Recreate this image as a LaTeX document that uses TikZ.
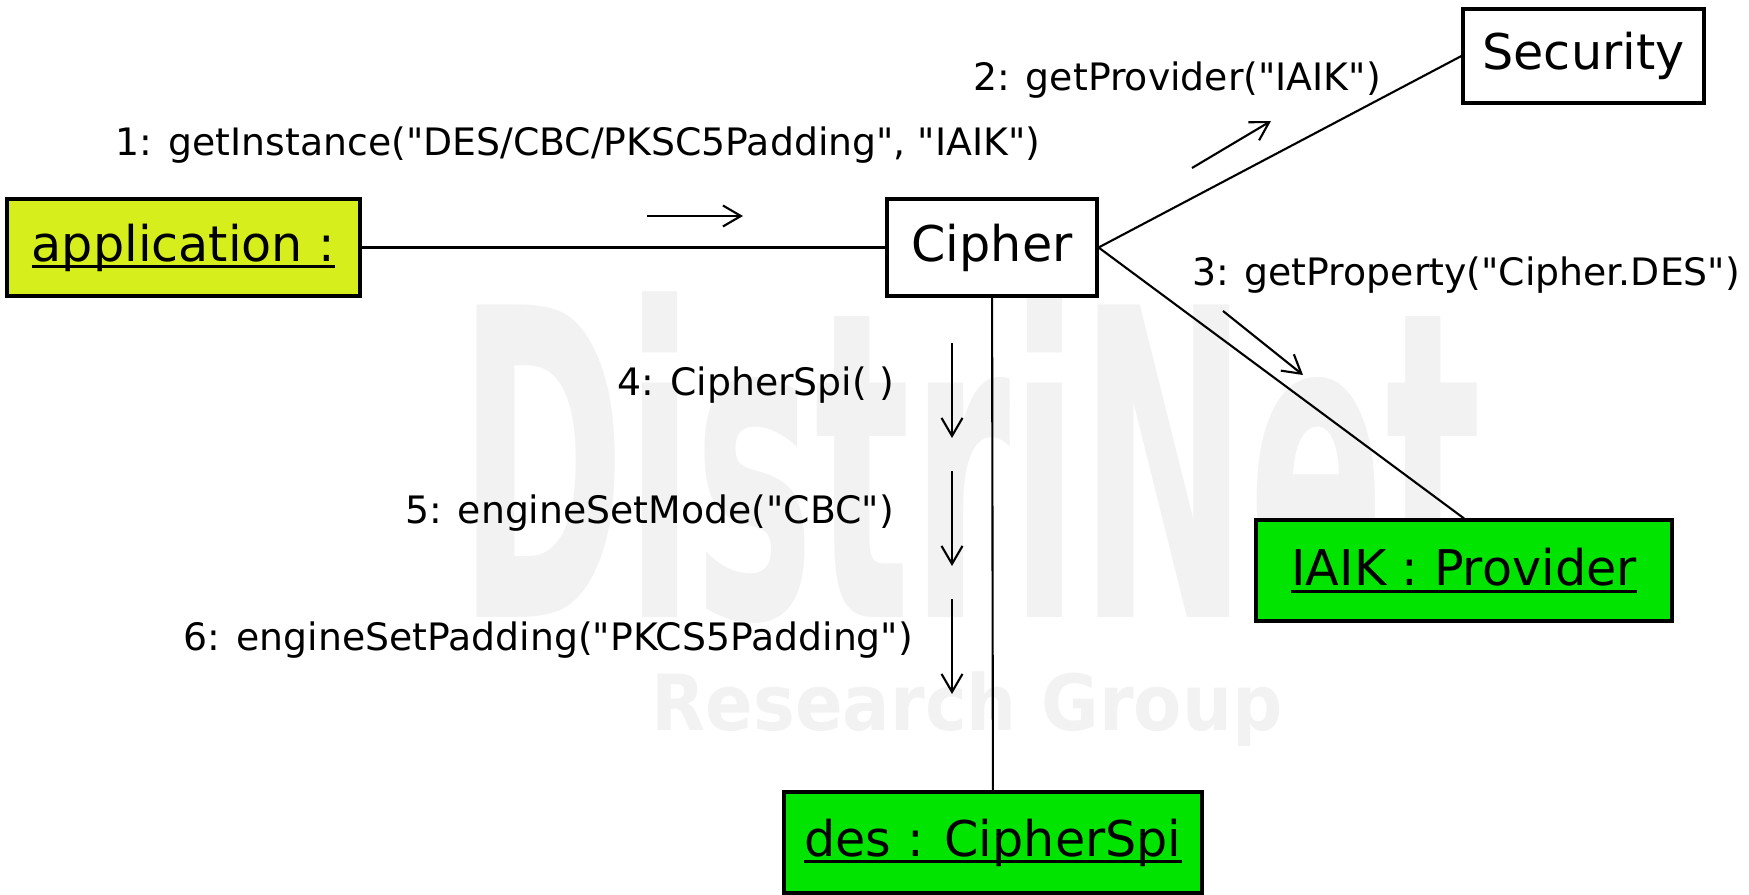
\documentclass[tikz,border=0pt]{standalone}
\usepackage{fontspec}
\usepackage{graphicx}
\setmainfont{DejaVu Sans}
\newfontfamily\umlfont{DejaVu Sans}
\usetikzlibrary{arrows.meta,positioning}
\definecolor{appyellow}{RGB}{214,238,28}
\definecolor{objgreen}{RGB}{0,228,0}
\newcommand{\objname}[1]{\setbox0\hbox{#1}\rlap{\rule[-0.145em]{\wd0}{0.065em}}\box0}

\begin{document}
\begin{tikzpicture}[>={Straight Barb[length=1.8mm,width=2.1mm]}, line width=0.6pt]
    \tikzstyle{object}=[draw,line width=0.9pt,inner sep=0pt,font=\umlfont\fontsize{14}{16}\selectfont]
    \tikzstyle{msg}=[font=\umlfont\fontsize{10.75}{12}\selectfont,inner sep=0pt]
    \tikzstyle{watermark}=[text=black!5,inner sep=0pt,anchor=base]
    \useasboundingbox (0,0) rectangle (17.49,-8.95);

    % Background logo
    \node[watermark,font=\fontsize{122}{122}\selectfont\bfseries] (logo) at (9.70,-6.17) {\scalebox{0.47}[1]{DistriNet}};
    \node[watermark,font=\fontsize{22}{24}\selectfont\bfseries] (group) at (9.67,-7.30) {\scalebox{0.91}[1]{Research Group}};

    % Objects
    \node[object,fill=appyellow,minimum width=3.53cm,minimum height=0.97cm] (app) at (1.835,-2.475) {\objname{application :}};
    \node[object,fill=white,minimum width=2.10cm,minimum height=0.97cm] (cipher) at (9.92,-2.475) {Cipher};
    \node[object,fill=white,minimum width=2.41cm,minimum height=0.94cm] (security) at (15.835,-0.56) {Security};
    \node[object,fill=objgreen,minimum width=4.16cm,minimum height=1.01cm] (iaik) at (14.64,-5.705) {\objname{IAIK : Provider}};
    \node[object,fill=objgreen,minimum width=4.18cm,minimum height=1.01cm] (des) at (9.93,-8.425) {\objname{des : CipherSpi}};

    % Links
    \draw (app) -- (cipher);
    \draw (cipher.east) -- (security.west);
    \draw (cipher.east) -- (iaik.north);
    \draw (cipher) -- (des);

    % Messages
    \node[msg] (m1) at (5.78,-1.45) {1: getInstance("DES/CBC/PKSC5Padding", "IAIK")};
    \node[msg] (m2) at (11.77,-0.80) {2: getProvider("IAIK")};
    \node[msg] (m3) at (14.66,-2.75) {3: getProperty("Cipher.DES")};
    \node[msg,anchor=east] (m4) at (8.95,-3.85) {4: CipherSpi( )};
    \node[msg,anchor=east] (m5) at (8.95,-5.13) {5: engineSetMode("CBC")};
    \node[msg,anchor=east] (m6) at (9.14,-6.40) {6: engineSetPadding("PKCS5Padding")};

    \coordinate (a1s) at (6.47,-2.16);
    \coordinate (a1e) at (7.43,-2.16);
    \coordinate (a2s) at (11.92,-1.68);
    \coordinate (a2e) at (12.71,-1.21);
    \coordinate (a3s) at (12.23,-3.11);
    \coordinate (a3e) at (13.03,-3.75);
    \foreach \n in {1,...,3}
        \draw[->] (a\n s) -- (a\n e);

    \foreach \n/\y in {4/3.43, 5/4.71, 6/5.99} {
        \coordinate (a\n s) at (9.52,-\y);
        \coordinate (a\n e) at (9.52,-\y-0.95);
        \draw[->] (a\n s) -- (a\n e);
    }
\end{tikzpicture}
\end{document}
